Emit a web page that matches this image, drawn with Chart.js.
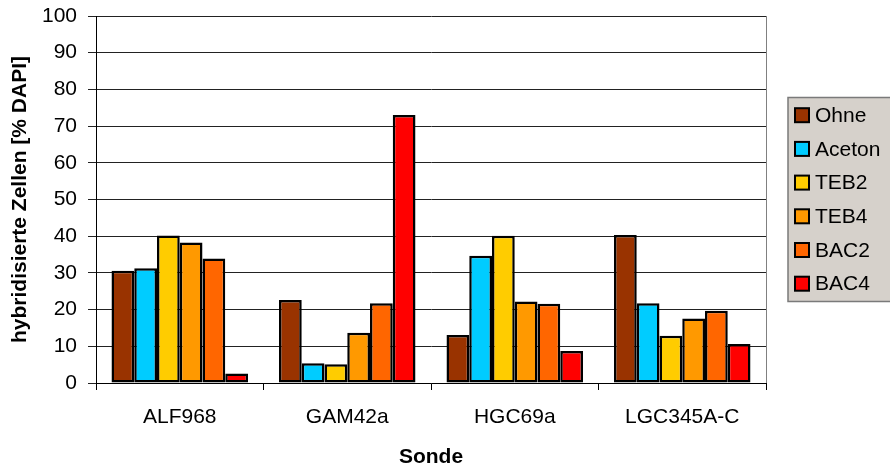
<!DOCTYPE html>
<html>
<head>
<meta charset="utf-8">
<script src="https://cdn.jsdelivr.net/npm/chart.js@4/dist/chart.umd.min.js"></script>
<style>
  body { margin: 0; background: #fff; }
  #wrap { width: 890px; height: 468px; }
</style>
</head>
<body>
<div id="wrap"><canvas id="chart" width="890" height="468"></canvas></div>
<script>
// --- data ---
const sonden = ['ALF968', 'GAM42a', 'HGC69a', 'LGC345A-C'];
const ohne   = [30.6, 22.6, 13.1, 40.3];
const aceton = [31.3, 5.4, 34.7, 21.7];
const teb2   = [40.2, 5.1, 40.1, 12.9];
const teb4   = [38.3, 13.7, 22.2, 17.6];
const bac2   = [33.9, 21.7, 21.6, 19.7];
const bac4   = [2.6, 73.0, 8.7, 10.6];
const seriesNames = ['Ohne', 'Aceton', 'TEB2', 'TEB4', 'BAC2', 'BAC4'];
const seriesColors = ['#993300', '#00ccff', '#ffcc00', '#ff9900', '#ff6600', '#ff0000'];
const yTicks = [0, 10, 20, 30, 40, 50, 60, 70, 80, 90, 100];

const FONT = '"Liberation Sans", Arial, sans-serif';
Chart.defaults.font.family = FONT;
Chart.defaults.color = '#000';

const allValues = [ohne, aceton, teb2, teb4, bac2, bac4];
const datasets = allValues.map((vals, i) => ({
    label: seriesNames[i],
    data: vals,
    backgroundColor: seriesColors[i],
    borderColor: '#000',
    borderWidth: 2.5,
    borderSkipped: false,
    categoryPercentage: 0.815,
    barPercentage: 1.0
}));

// legend box with grey fill, like the old office charts
const boxLegend = {
    id: 'boxLegend',
    afterDraw(chart) {
        const ctx = chart.ctx;
        const area = chart.chartArea;
        const rowH = 33.7;
        const h = 204;
        const x = area.right + 22;
        const y = (area.top + area.bottom) / 2 - h / 2;
        ctx.save();
        ctx.fillStyle = '#d6d1cb';
        ctx.fillRect(x, y, 120, h);
        ctx.strokeStyle = '#7a7a7a';
        ctx.lineWidth = 1.5;
        ctx.strokeRect(x, y, 120, h);
        ctx.font = '21px ' + FONT;
        ctx.textBaseline = 'middle';
        chart.data.datasets.forEach((ds, i) => {
            const cy = y + 17.7 + i * rowH;
            ctx.fillStyle = ds.backgroundColor;
            ctx.fillRect(x + 7, cy - 7, 14, 14);
            ctx.strokeStyle = '#000';
            ctx.lineWidth = 2;
            ctx.strokeRect(x + 7, cy - 7, 14, 14);
            ctx.fillStyle = '#000';
            ctx.fillText(ds.label, x + 27, cy + 1);
        });
        // right edge of plot area
        ctx.strokeStyle = '#808080';
        ctx.lineWidth = 1;
        ctx.beginPath();
        ctx.moveTo(area.right + 0.5, area.top);
        ctx.lineTo(area.right + 0.5, area.bottom);
        ctx.stroke();
        ctx.restore();
    }
};

new Chart(document.getElementById('chart'), {
    type: 'bar',
    data: { labels: sonden, datasets: datasets },
    options: {
        responsive: false,
        animation: false,
        layout: { padding: { top: 16, right: 124, bottom: 0, left: 0 } },
        plugins: {
            legend: { display: false },
            tooltip: { enabled: false }
        },
        scales: {
            x: {
                afterFit(scale) { scale.height = 85; scale.paddingLeft = 0; scale.paddingRight = 0; },
                grid: { display: true, drawOnChartArea: false, offset: true, tickLength: 7, color: '#000', lineWidth: 1 },
                border: { display: true, color: '#000', width: 1 },
                ticks: { font: { size: 21 }, padding: 15, color: '#000', maxRotation: 0 },
                title: { display: true, text: 'Sonde', font: { size: 21, weight: 'bold', lineHeight: 1 }, padding: { top: 0, bottom: 0 }, color: '#000' }
            },
            y: {
                min: 0,
                max: 100,
                afterFit(scale) { scale.width = 96; scale.paddingTop = 0; scale.paddingBottom = 0; },
                afterBuildTicks(scale) { scale.ticks = yTicks.map(v => ({ value: v })); },
                grid: { color: '#222', lineWidth: 1, tickLength: 8 },
                border: { display: true, color: '#000', width: 1 },
                ticks: { font: { size: 21 }, padding: 11, color: '#000' },
                title: { display: true, text: 'hybridisierte Zellen [% DAPI]', font: { size: 21, weight: 'bold', lineHeight: 1 }, padding: { top: 10, bottom: 0 }, color: '#000' }
            }
        }
    },
    plugins: [boxLegend]
});
</script>
</body>
</html>
